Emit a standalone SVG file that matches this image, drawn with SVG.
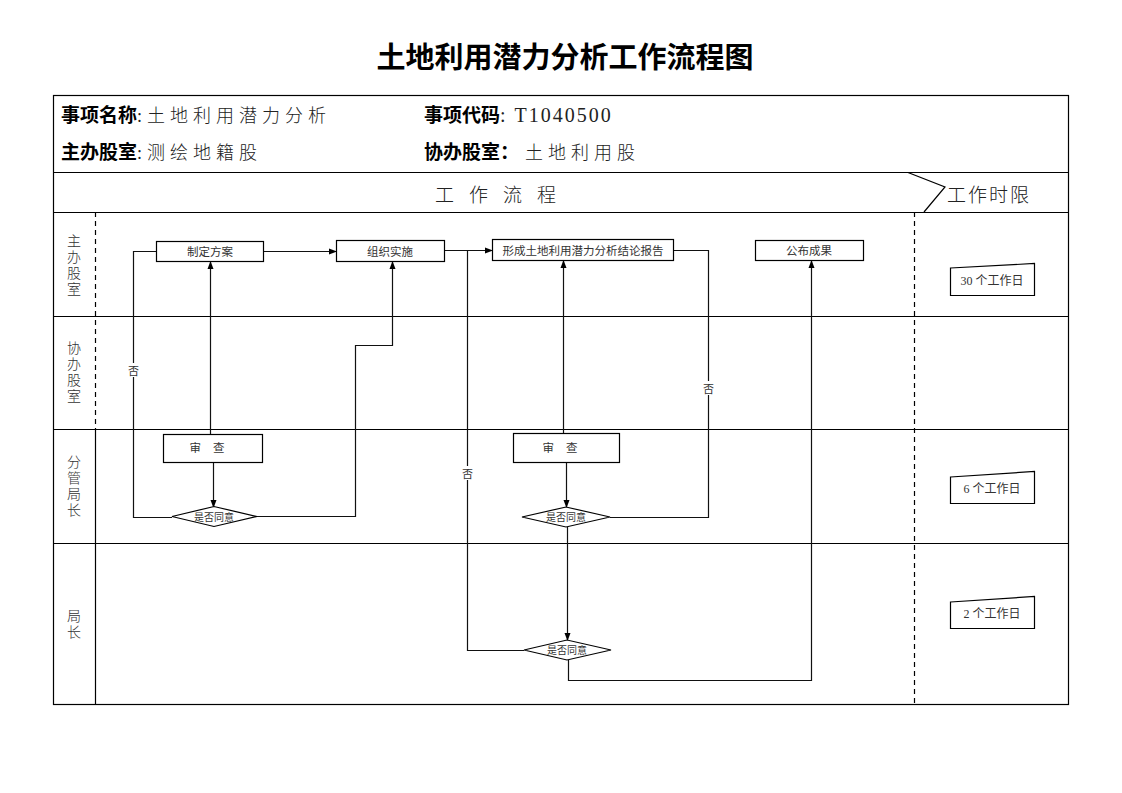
<svg xmlns="http://www.w3.org/2000/svg" width="1122" height="793" viewBox="0 0 1122 793">
<defs>
<style>
.ln{stroke:#000;stroke-width:1.2;fill:none}
.dash{stroke:#000;stroke-width:1.2;fill:none;stroke-dasharray:5,4}
.box{fill:#fff;stroke:#000;stroke-width:1.2}
.c{stroke:#111;stroke-width:1.2;fill:none}
.t{font-family:"Liberation Serif","Noto Sans CJK SC",serif;font-size:11.5px;fill:#333;text-anchor:middle}
.hb{font-family:"Noto Sans CJK SC",sans-serif;font-size:19px;font-weight:bold;fill:#000}
.hs{font-family:"Liberation Serif","Noto Sans CJK SC",serif;font-size:18px;fill:#222;font-weight:300}
.lane{font-family:"Noto Sans CJK SC",sans-serif;font-size:14px;fill:#333;text-anchor:middle;font-weight:300;writing-mode:vertical-rl;letter-spacing:2px}
</style>
<marker id="ar" markerWidth="8" markerHeight="8" refX="7" refY="4" orient="auto" markerUnits="userSpaceOnUse">
<path d="M0,1 L8,4 L0,7 Z" fill="#000"/>
</marker>
</defs>
<rect width="1122" height="793" fill="#fff"/>
<text x="565" y="68" text-anchor="middle" style="font-family:'Noto Sans CJK SC',sans-serif;font-size:29px;font-weight:bold" fill="#000">土地利用潜力分析工作流程图</text>

<g id="frame">
<rect x="53.5" y="95.5" width="1015" height="609" class="ln"/>
<line x1="53" y1="172.5" x2="1068" y2="172.5" class="ln"/>
<line x1="53" y1="212.5" x2="1068" y2="212.5" class="ln"/>
<line x1="53" y1="316.5" x2="1068" y2="316.5" class="ln"/>
<line x1="53" y1="429.5" x2="1068" y2="429.5" class="ln"/>
<line x1="53" y1="543.5" x2="1068" y2="543.5" class="ln"/>
<line x1="95.5" y1="212" x2="95.5" y2="429" class="dash"/>
<line x1="95.5" y1="429" x2="95.5" y2="704" class="ln"/>
<line x1="914.5" y1="212" x2="914.5" y2="704" class="dash"/>
<polyline points="908,172.5 945,187 924,212" class="ln"/>
</g>

<g id="header">
<text x="61" y="122"><tspan class="hb">事项名称</tspan><tspan class="hs" letter-spacing="5">:土地利用潜力分析</tspan></text>
<text x="424" y="122"><tspan class="hb">事项代码</tspan><tspan class="hs" style="font-size:20px" letter-spacing="2">: T1040500</tspan></text>
<text x="61" y="159"><tspan class="hb">主办股室</tspan><tspan class="hs" letter-spacing="5">:测绘地籍股</tspan></text>
<text x="424" y="159"><tspan class="hb">协办股室：</tspan><tspan class="hs" letter-spacing="5" dx="6">土地利用股</tspan></text>
<text x="435" y="202" class="hs" style="font-size:19px" letter-spacing="15">工作流程</text>
<text x="947" y="202" class="hs" style="font-size:19px" letter-spacing="2">工作时限</text>
</g>

<g id="lanes">
<text x="74" y="266" class="lane">主办股室</text>
<text x="74" y="373" class="lane">协办股室</text>
<text x="74" y="487" class="lane">分管局长</text>
<text x="74" y="625" class="lane">局长</text>
</g>

<g id="connectors">
<line x1="263" y1="251.5" x2="336" y2="251.5" class="c" marker-end="url(#ar)"/>
<line x1="444" y1="250.5" x2="492" y2="250.5" class="c" marker-end="url(#ar)"/>
<line x1="210.5" y1="434" x2="210.5" y2="262" class="c" marker-end="url(#ar)"/>
<line x1="213.5" y1="462" x2="213.5" y2="507" class="c" marker-end="url(#ar)"/>
<polyline points="172,517.5 133.5,517.5 133.5,251.5 156,251.5" class="c"/>
<polyline points="257,516.5 355.5,516.5 355.5,345.5 392.5,345.5 392.5,262" class="c" marker-end="url(#ar)"/>
<polyline points="524,650.5 467.5,650.5 467.5,250.5" class="c"/>
<line x1="563.5" y1="433" x2="563.5" y2="261" class="c" marker-end="url(#ar)"/>
<line x1="566.5" y1="462" x2="566.5" y2="507" class="c" marker-end="url(#ar)"/>
<polyline points="610,517.5 708.5,517.5 708.5,250.5 673,250.5" class="c"/>
<line x1="567.5" y1="527" x2="567.5" y2="640" class="c" marker-end="url(#ar)"/>
<polyline points="568.5,660 568.5,680.5 811.5,680.5 811.5,261" class="c" marker-end="url(#ar)"/>
<rect x="127" y="363" width="13" height="14" fill="#fff"/>
<text x="133.5" y="375" class="t" style="font-size:11px">否</text>
<rect x="461" y="466" width="13" height="14" fill="#fff"/>
<text x="467.5" y="478" class="t" style="font-size:11px">否</text>
<rect x="702" y="381" width="13" height="14" fill="#fff"/>
<text x="708.5" y="393" class="t" style="font-size:11px">否</text>
</g>

<g id="n1"><rect x="156.5" y="241.5" width="107" height="20" class="box"/><text x="210" y="256" class="t">制定方案</text></g>
<g id="n2"><rect x="336.5" y="240.5" width="108" height="21" class="box"/><text x="390" y="255.5" class="t">组织实施</text></g>
<g id="n3"><rect x="492.5" y="239.5" width="181" height="21" class="box"/><text x="583" y="254.5" class="t">形成土地利用潜力分析结论报告</text></g>
<g id="n4"><rect x="755.5" y="240.5" width="108" height="20" class="box"/><text x="809" y="255" class="t">公布成果</text></g>
<g id="n5"><rect x="163.5" y="434.5" width="99" height="28" class="box"/><text x="213" y="452" class="t" letter-spacing="12">审查</text></g>
<g id="n6"><rect x="513.5" y="433.5" width="106" height="29" class="box"/><text x="566" y="451.5" class="t" letter-spacing="12">审查</text></g>
<g id="d1"><polygon points="172,516.5 214,506.5 257,516.5 214,526.5" class="box"/><text x="214" y="520.5" class="t" style="font-size:10px">是否同意</text></g>
<g id="d2"><polygon points="522,517 566,507 610,517 566,527" class="box"/><text x="566" y="521" class="t" style="font-size:10px">是否同意</text></g>
<g id="d3"><polygon points="524,650 567,640 611,650 567,660" class="box"/><text x="567" y="654" class="t" style="font-size:10px">是否同意</text></g>

<g id="tl1"><polygon points="950.5,268 1034.5,263.5 1034.5,295.5 950.5,295.5" class="box"/><text x="992" y="285" class="t" style="font-size:12px">30 个工作日</text></g>
<g id="tl2"><polygon points="950.5,477 1034.5,471.5 1034.5,503.5 950.5,503.5" class="box"/><text x="992" y="493" class="t" style="font-size:12px">6 个工作日</text></g>
<g id="tl3"><polygon points="950.5,602 1034.5,596.5 1034.5,628.5 950.5,628.5" class="box"/><text x="992" y="618" class="t" style="font-size:12px">2 个工作日</text></g>
</svg>
